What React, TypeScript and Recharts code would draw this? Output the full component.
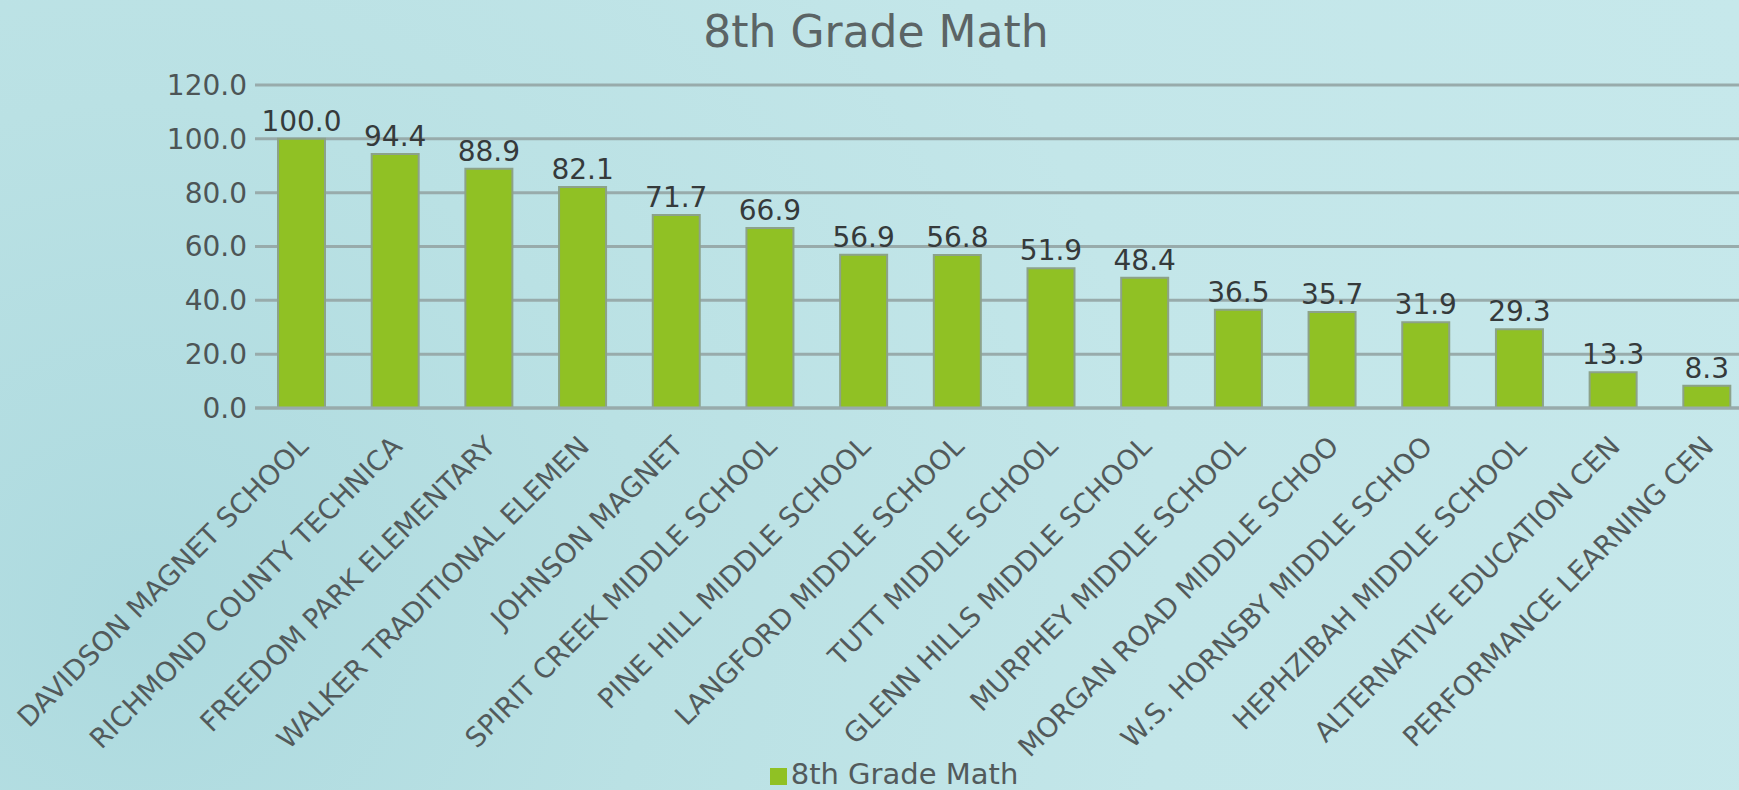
import { BarChart, Bar, XAxis, YAxis, CartesianGrid, Legend, LabelList } from "recharts";

const schools = [
  "DAVIDSON MAGNET SCHOOL",
  "RICHMOND COUNTY TECHNICA",
  "FREEDOM PARK ELEMENTARY",
  "WALKER TRADITIONAL ELEMEN",
  "JOHNSON MAGNET",
  "SPIRIT CREEK MIDDLE SCHOOL",
  "PINE HILL MIDDLE SCHOOL",
  "LANGFORD MIDDLE SCHOOL",
  "TUTT MIDDLE SCHOOL",
  "GLENN HILLS MIDDLE SCHOOL",
  "MURPHEY MIDDLE SCHOOL",
  "MORGAN ROAD MIDDLE SCHOO",
  "W.S. HORNSBY MIDDLE SCHOO",
  "HEPHZIBAH MIDDLE SCHOOL",
  "ALTERNATIVE EDUCATION CEN",
  "PERFORMANCE LEARNING CEN",
];

const mathScores = [100.0, 94.4, 88.9, 82.1, 71.7, 66.9, 56.9, 56.8, 51.9, 48.4, 36.5, 35.7, 31.9, 29.3, 13.3, 8.3];

const yTicks = [0, 20, 40, 60, 80, 100, 120];

const SERIES_NAME = "8th Grade Math";
const GREEN = "#90c124";
const GRID = "#98abab";

const data = schools.map((name, i) => ({ name, score: mathScores[i] }));

function SchoolTick(props: any) {
  const { x, y, payload } = props;
  return (
    <text
      x={0}
      y={0}
      transform={`translate(${x + 8},${y + 32}) rotate(-45)`}
      textAnchor="end"
      fill="#525a5b"
      fontSize={27.5}
    >
      {payload.value}
    </text>
  );
}

export default function App() {
  return (
    <div
      style={{
        position: "relative",
        width: 1739,
        height: 790,
        overflow: "hidden",
        fontFamily: "'DejaVu Sans', sans-serif",
        background:
          "radial-gradient(circle at 8% 78%, #addadf 0%, #bae1e4 30%, #c3e6e9 60%, #c6e8eb 100%)",
      }}
    >
      <style>{"body{margin:0}"}</style>
      <div
        style={{
          position: "absolute",
          top: 10,
          left: 0,
          width: 1752,
          textAlign: "center",
          fontSize: 44,
          lineHeight: "44px",
          color: "#5b6465",
          zIndex: 1,
        }}
      >
        8th Grade Math
      </div>
      <BarChart
        width={1760}
        height={790}
        data={data}
        margin={{ top: 85, right: 6, left: 0, bottom: 0 }}
      >
        <CartesianGrid vertical={false} stroke={GRID} strokeWidth={3} />
        <XAxis
          dataKey="name"
          interval={0}
          height={351}
          tickLine={false}
          axisLine={{ stroke: GRID, strokeWidth: 3 }}
          tick={<SchoolTick />}
        />
        <YAxis
          width={255}
          domain={[0, 120]}
          ticks={yTicks}
          tickFormatter={(v: number) => v.toFixed(1)}
          tickLine={false}
          axisLine={false}
          tick={{ fill: "#4d5556", fontSize: 28 }}
        />
        <Legend
          iconType="square"
          iconSize={17}
          wrapperStyle={{ fontSize: 29, lineHeight: "31px", height: 31, paddingLeft: 44, boxSizing: "border-box" }}
          formatter={(value: string) => <span style={{ color: "#525a5b" }}>{value}</span>}
        />
        <Bar
          dataKey="score"
          name={SERIES_NAME}
          fill={GREEN}
          stroke="#8ca28a"
          strokeWidth={2}
          barSize={47}
          isAnimationActive={false}
        >
          <LabelList
            dataKey="score"
            position="top"
            offset={8}
            fill="#353a3b"
            fontSize={28}
            formatter={(v: any) => Number(v).toFixed(1)}
          />
        </Bar>
      </BarChart>
    </div>
  );
}
